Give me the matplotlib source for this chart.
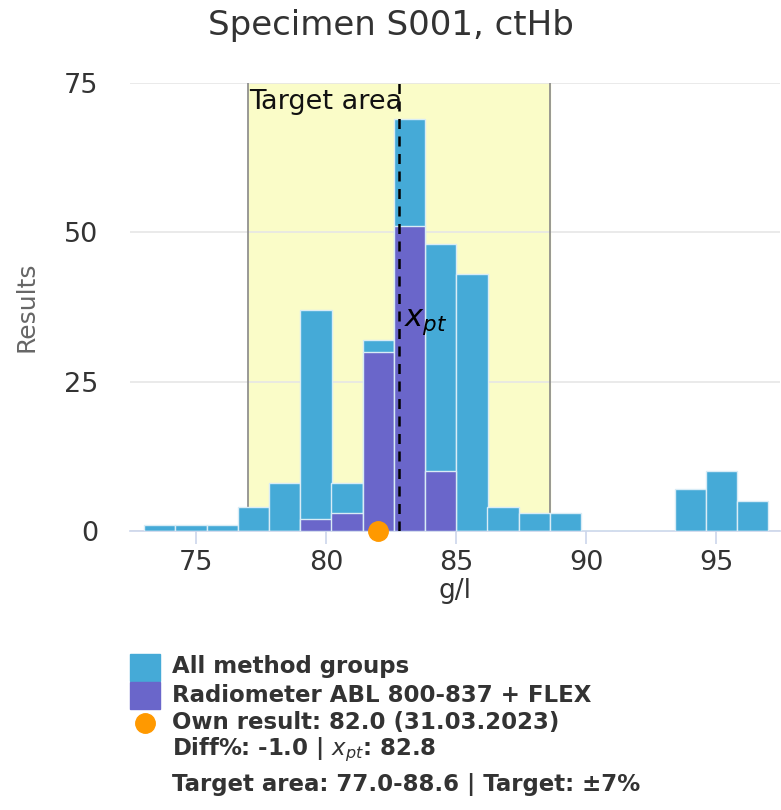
import numpy as np
import matplotlib
matplotlib.use("Agg")
import matplotlib.pyplot as plt
from matplotlib.patches import Rectangle
from matplotlib.lines import Line2D

# histogram bins (g/l), width 1.2
bin_start = 73.0
bin_width = 1.2
all_groups = [1, 1, 1, 4, 8, 37, 8, 32, 69, 48, 43, 4, 3, 3, 0, 0, 0, 7, 10, 5]
radiometer = [0, 0, 0, 0, 0, 2, 3, 30, 51, 10, 0, 0, 0, 0, 0, 0, 0, 0, 0, 0]

own_result = 82.0
x_pt = 82.8
target_low, target_high = 77.0, 88.6

title = "Specimen S001, ctHb"
legend_lines = ["All method groups", "Radiometer ABL 800-837 + FLEX",
                "Own result: 82.0 (31.03.2023)",
                "Diff%: -1.0 | $x_{pt}$: 82.8",
                "Target area: 77.0-88.6 | Target: ±7%"]

blue = "#45aad7"
purple = "#6a66ca"
orange = "#ff9900"
txt = "#333333"

lefts = bin_start + bin_width * np.arange(len(all_groups))

fig = plt.figure(figsize=(7.81, 8.10), dpi=100)
ax = fig.add_axes([130 / 781, 1 - 531 / 810, 650 / 781, 448 / 810])

ax.axvspan(target_low, target_high, color="#fafcc8", zorder=0)
ax.axvline(target_low, color="#888888", lw=1.2, zorder=1)
ax.axvline(target_high, color="#888888", lw=1.2, zorder=1)

ax.bar(lefts, all_groups, width=bin_width, align="edge", color=blue,
       edgecolor="#d8ecf6", linewidth=1, zorder=3)
ax.bar(lefts, radiometer, width=bin_width, align="edge", color=purple,
       edgecolor="#d8ecf6", linewidth=1, zorder=4)

ax.axvline(x_pt, color="black", lw=1.8, ls=(0, (4, 3)), zorder=5)
ax.text(x_pt + 0.2, 35, "$x_{pt}$", fontsize=22, va="center", zorder=6)
ax.text(target_low + 0.05, 74, "Target area", fontsize=19.5, va="top",
        color="#111111", zorder=6)

ax.plot([own_result], [0], "o", color=orange, markersize=14, clip_on=False,
        zorder=7)

ax.set_xlim(72.45, 97.45)
ax.set_ylim(0, 75)
ax.set_xticks([75, 80, 85, 90, 95])
ax.set_yticks([0, 25, 50, 75])
ax.grid(axis="y", color="#e6e6e6", lw=1.2, zorder=0)
ax.set_axisbelow(True)
for s in ["top", "right", "left"]:
    ax.spines[s].set_visible(False)
ax.spines["bottom"].set_color("#ccd6eb")
ax.spines["bottom"].set_linewidth(1.2)
ax.tick_params(axis="x", colors="#ccd6eb", length=9, width=1.2, labelcolor=txt,
               labelsize=19.5, pad=5)
ax.tick_params(axis="y", length=0, labelcolor=txt, labelsize=19.5, pad=23)
ax.set_xlabel("g/l", fontsize=19, color=txt, labelpad=1)
ax.set_ylabel("Results", fontsize=18, color="#666666", labelpad=18)

fig.text(0.5, 1 - 25 / 810, title, fontsize=24.5, color=txt, ha="center",
         va="center")

# legend below the chart
row_y = [667, 695, 723, 750, 785]
fig.add_artist(Rectangle((130 / 781, 1 - 681 / 810), 30 / 781, 27 / 810,
                         transform=fig.transFigure, color=blue))
fig.add_artist(Rectangle((130 / 781, 1 - 709 / 810), 30 / 781, 27 / 810,
                         transform=fig.transFigure, color=purple))
fig.add_artist(Line2D([145 / 781], [1 - 723 / 810], marker="o", color=orange,
                      markersize=14, transform=fig.transFigure))
for y, label in zip(row_y, legend_lines):
    fig.text(172 / 781, 1 - y / 810, label, fontsize=16.5, fontweight="bold",
             color=txt, ha="left", va="center")

fig.savefig("out.png", dpi=100, facecolor="white")
